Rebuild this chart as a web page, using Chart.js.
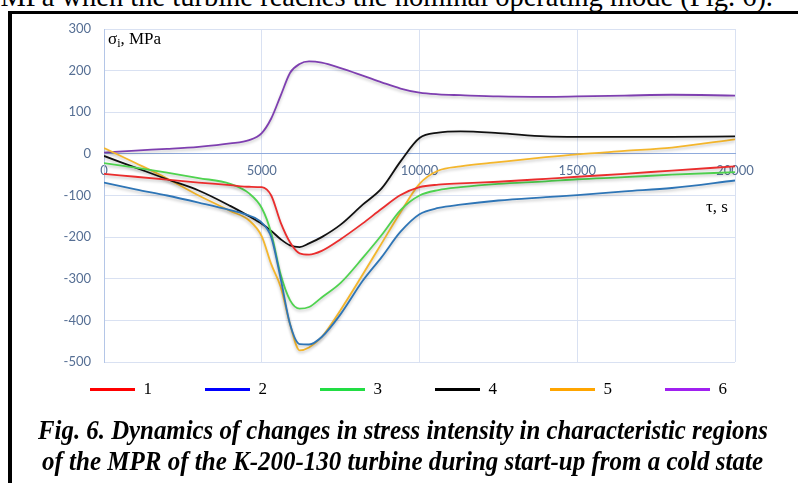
<!DOCTYPE html>
<html>
<head>
<meta charset="utf-8">
<script src="https://cdn.jsdelivr.net/npm/chart.js@4.4.1/dist/chart.umd.min.js"></script>
<style>
  html, body { margin: 0; padding: 0; background: #fff; width: 798px; height: 483px; overflow: hidden; }
  #wrap { position: relative; width: 798px; height: 483px; overflow: hidden; }
  #chart { position: absolute; left: 0; top: 0; }
  .txt { position: absolute; white-space: nowrap; font-family: 'Liberation Serif', 'Times New Roman', serif; color: #000; }
  .rule { position: absolute; background: #000; }
  .cap { font-weight: bold; font-style: italic; font-size: 27px; line-height: 31px; transform-origin: left top; }
  sub { font-size: 70%; vertical-align: -3px; line-height: 0; }
</style>
</head>
<body>
<div id="wrap">
  <div class="txt" style="right:25px; top:-17px; font-size:28.5px; line-height:28.5px;">MPa when the turbine reaches the nominal operating mode (Fig. 6).</div>
  <div class="rule" style="left:8px; top:11px; width:790px; height:3px;"></div>
  <div class="rule" style="left:8px; top:11px; width:4px; height:472px;"></div>
  <canvas id="chart" width="798" height="483"></canvas>
  <div class="txt" style="left:108px; top:29px; font-size:17px;">σ<sub>i</sub>, MPa</div>
  <div class="txt" style="left:706px; top:197px; font-size:17px;">τ, s</div>
  <div class="txt cap" data-w="730" style="left:38px; top:415px;">Fig. 6. Dynamics of changes in stress intensity in characteristic regions</div>
  <div class="txt cap" data-w="721" style="left:42px; top:446px;">of the MPR of the K-200-130 turbine during start-up from a cold state</div>
</div>
<script>
// time, s
const timeS = [0, 1000, 2000, 3000, 4000, 4600, 5000, 5300, 5600, 5900, 6200, 6500, 6900, 7500, 8200, 8800, 9400, 10000, 10600, 11300, 12500, 14000, 15000, 16500, 18000, 20000];

// stress intensity, MPa (regions 1..6)
const stress1 = [-48, -55, -62, -69, -75, -79, -80, -100, -165, -213, -239, -242, -233, -205, -167, -132, -99, -80, -74, -71, -67, -60, -55, -48, -40, -30];
const stress2 = [-69, -85, -100, -117, -135, -148, -165, -200, -300, -410, -457, -458, -440, -385, -305, -248, -187, -145, -130, -122, -112, -104, -99, -90, -82, -64];
const stress3 = [-22, -33, -45, -58, -72, -95, -130, -190, -290, -352, -372, -368, -345, -310, -250, -195, -135, -100, -87, -80, -72, -66, -61, -56, -50, -44];
const stress4 = [-5, -33, -61, -88, -125, -150, -168, -185, -205, -220, -224, -215, -200, -170, -122, -83, -18, 38, 51, 54, 50, 42, 41, 41, 41, 42];
const stress5 = [14, -22, -59, -100, -137, -160, -198, -265, -320, -410, -472, -465, -440, -375, -290, -215, -140, -72, -40, -30, -20, -8, -1, 7, 15, 35];
const stress6 = [3, 8, 12, 17, 25, 33, 50, 85, 140, 195, 216, 222, 219, 206, 188, 172, 157, 147, 143, 141, 138, 137, 138, 140, 142, 140];

const seriesNames = ['1', '2', '3', '4', '5', '6'];
const seriesValues = [stress1, stress2, stress3, stress4, stress5, stress6];
const lineColors = ['#ea2d2d', '#2e75b6', '#4fd34f', '#111111', '#f4b62c', '#7e3fb0'];
const legendColors = ['#ff0000', '#0000ff', '#22dd44', '#000000', '#ffa500', '#a020f0'];

const tickColor = '#566f94';
const gridColor = '#d9e1f2';

// soft shadow under the curves, like the original
const lineShadow = {
    id: 'lineShadow',
    beforeDatasetDraw(chart) {
        const c = chart.ctx;
        c.save();
        c.shadowColor = 'rgba(0,0,0,0.22)';
        c.shadowBlur = 3;
        c.shadowOffsetY = 2;
    },
    afterDatasetDraw(chart) {
        chart.ctx.restore();
    }
};

const datasets = seriesValues.map((vals, i) => ({
    label: seriesNames[i],
    data: vals.map((v, k) => ({ x: timeS[k], y: v })),
    borderColor: lineColors[i],
    borderWidth: 1.8,
    pointRadius: 0,
    fill: false,
    cubicInterpolationMode: 'monotone'
}));

new Chart(document.getElementById('chart'), {
    type: 'line',
    data: { datasets: datasets },
    plugins: [lineShadow],
    options: {
        responsive: false,
        animation: false,
        devicePixelRatio: 1,
        layout: { padding: { left: 53, top: 29, right: 0, bottom: 75 } },
        scales: {
            x: {
                type: 'linear',
                min: 0,
                max: 20000,
                position: { y: 0 },
                ticks: {
                    stepSize: 5000,
                    color: tickColor,
                    font: { family: 'Lato', size: 13 },
                    padding: 9,
                    maxRotation: 0,
                    callback: v => String(v)
                },
                grid: { color: gridColor, drawTicks: false },
                border: { color: '#8faadc', width: 1 }
            },
            y: {
                min: -500,
                max: 300,
                ticks: {
                    stepSize: 100,
                    color: tickColor,
                    font: { family: 'Lato', size: 13 },
                    padding: 13,
                    callback: v => String(v)
                },
                grid: { color: gridColor, drawTicks: false },
                border: { color: '#b4c6e7' },
                afterFit(s) { s.width = 51; }
            },
            // empty spacer on the right so the legend may be wider than the plot
            yRight: {
                position: 'right',
                ticks: { display: false },
                grid: { display: false },
                border: { display: false },
                afterFit(s) { s.width = 63; }
            }
        },
        plugins: {
            tooltip: { enabled: false },
            legend: {
                position: 'bottom',
                align: 'center',
                labels: {
                    boxWidth: 45,
                    boxHeight: 3,
                    padding: 19,
                    color: '#000',
                    font: { family: 'Liberation Serif', size: 17 },
                    generateLabels: chart => chart.data.datasets.map((ds, i) => ({
                        text: ds.label + '\u00a0'.repeat(8),
                        fillStyle: legendColors[i],
                        strokeStyle: legendColors[i],
                        lineWidth: 0,
                        datasetIndex: i,
                        hidden: false
                    }))
                }
            }
        }
    }
});

// squeeze caption lines to the width they have in the figure
document.querySelectorAll('.cap').forEach(el => {
    const w = el.getBoundingClientRect().width;
    el.style.transform = 'scaleX(' + (el.dataset.w / w) + ')';
});
</script>
</body>
</html>
